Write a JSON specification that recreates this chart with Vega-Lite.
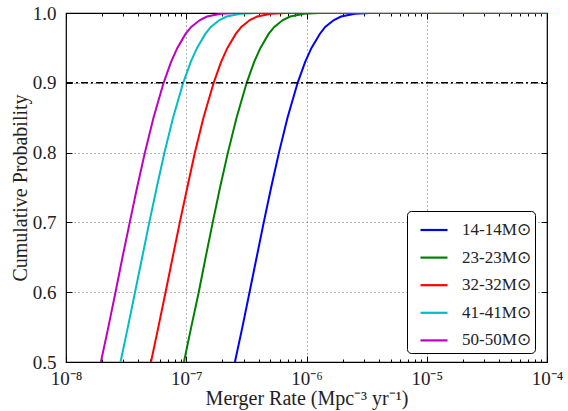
{
  "$schema": "https://vega.github.io/schema/vega-lite/v6.json",
  "width": 481,
  "height": 349,
  "autosize": {"type": "none"},
  "padding": {"left": 66, "top": 13, "right": 21, "bottom": 49},
  "background": "white",
  "config": {
    "font": "Liberation Serif",
    "view": {"stroke": "black", "strokeWidth": 1.2},
    "axis": {"domain": false, "labelFont": "Liberation Serif", "titleFont": "Liberation Serif", "labelColor": "#222", "titleColor": "#222", "titleFontWeight": "normal", "tickColor": "black", "tickWidth": 1, "labelFontSize": 19, "titleFontSize": 20},
    "legend": {
      "orient": "none", "legendX": 341, "legendY": 198, "strokeColor": "black", "cornerRadius": 4, "fillColor": "white",
      "padding": 4, "symbolType": "stroke", "symbolStrokeWidth": 2.2, "symbolSize": 729, "symbolOffset": 8,
      "labelFont": "Liberation Serif", "labelFontSize": 17, "labelColor": "#222", "labelOffset": 13, "rowPadding": 4.6, "title": null
    }
  },
  "datasets": {
    "curves": [
      {"pair": "14-14M⊙", "rate": 2.54e-7, "prob": 0.5},
      {"pair": "14-14M⊙", "rate": 2.93e-7, "prob": 0.55},
      {"pair": "14-14M⊙", "rate": 3.36e-7, "prob": 0.6},
      {"pair": "14-14M⊙", "rate": 3.85e-7, "prob": 0.65},
      {"pair": "14-14M⊙", "rate": 4.41e-7, "prob": 0.7},
      {"pair": "14-14M⊙", "rate": 5.08e-7, "prob": 0.75},
      {"pair": "14-14M⊙", "rate": 5.90e-7, "prob": 0.8},
      {"pair": "14-14M⊙", "rate": 6.95e-7, "prob": 0.85},
      {"pair": "14-14M⊙", "rate": 8.44e-7, "prob": 0.9},
      {"pair": "14-14M⊙", "rate": 9.75e-7, "prob": 0.93},
      {"pair": "14-14M⊙", "rate": 1.10e-6, "prob": 0.95},
      {"pair": "14-14M⊙", "rate": 1.29e-6, "prob": 0.97},
      {"pair": "14-14M⊙", "rate": 1.43e-6, "prob": 0.98},
      {"pair": "14-14M⊙", "rate": 1.69e-6, "prob": 0.99},
      {"pair": "14-14M⊙", "rate": 1.94e-6, "prob": 0.995},
      {"pair": "14-14M⊙", "rate": 2.53e-6, "prob": 0.999},
      {"pair": "14-14M⊙", "rate": 3.38e-6, "prob": 0.9999},
      {"pair": "14-14M⊙", "rate": 1e-4, "prob": 1.0},

      {"pair": "23-23M⊙", "rate": 9.57e-8, "prob": 0.5},
      {"pair": "23-23M⊙", "rate": 1.10e-7, "prob": 0.55},
      {"pair": "23-23M⊙", "rate": 1.27e-7, "prob": 0.6},
      {"pair": "23-23M⊙", "rate": 1.45e-7, "prob": 0.65},
      {"pair": "23-23M⊙", "rate": 1.66e-7, "prob": 0.7},
      {"pair": "23-23M⊙", "rate": 1.91e-7, "prob": 0.75},
      {"pair": "23-23M⊙", "rate": 2.22e-7, "prob": 0.8},
      {"pair": "23-23M⊙", "rate": 2.62e-7, "prob": 0.85},
      {"pair": "23-23M⊙", "rate": 3.18e-7, "prob": 0.9},
      {"pair": "23-23M⊙", "rate": 3.67e-7, "prob": 0.93},
      {"pair": "23-23M⊙", "rate": 4.14e-7, "prob": 0.95},
      {"pair": "23-23M⊙", "rate": 4.84e-7, "prob": 0.97},
      {"pair": "23-23M⊙", "rate": 5.40e-7, "prob": 0.98},
      {"pair": "23-23M⊙", "rate": 6.36e-7, "prob": 0.99},
      {"pair": "23-23M⊙", "rate": 7.32e-7, "prob": 0.995},
      {"pair": "23-23M⊙", "rate": 9.54e-7, "prob": 0.999},
      {"pair": "23-23M⊙", "rate": 1.27e-6, "prob": 0.9999},
      {"pair": "23-23M⊙", "rate": 1e-4, "prob": 1.0},

      {"pair": "32-32M⊙", "rate": 5.09e-8, "prob": 0.5},
      {"pair": "32-32M⊙", "rate": 5.86e-8, "prob": 0.55},
      {"pair": "32-32M⊙", "rate": 6.73e-8, "prob": 0.6},
      {"pair": "32-32M⊙", "rate": 7.71e-8, "prob": 0.65},
      {"pair": "32-32M⊙", "rate": 8.84e-8, "prob": 0.7},
      {"pair": "32-32M⊙", "rate": 1.02e-7, "prob": 0.75},
      {"pair": "32-32M⊙", "rate": 1.18e-7, "prob": 0.8},
      {"pair": "32-32M⊙", "rate": 1.39e-7, "prob": 0.85},
      {"pair": "32-32M⊙", "rate": 1.69e-7, "prob": 0.9},
      {"pair": "32-32M⊙", "rate": 1.95e-7, "prob": 0.93},
      {"pair": "32-32M⊙", "rate": 2.20e-7, "prob": 0.95},
      {"pair": "32-32M⊙", "rate": 2.58e-7, "prob": 0.97},
      {"pair": "32-32M⊙", "rate": 2.87e-7, "prob": 0.98},
      {"pair": "32-32M⊙", "rate": 3.38e-7, "prob": 0.99},
      {"pair": "32-32M⊙", "rate": 3.89e-7, "prob": 0.995},
      {"pair": "32-32M⊙", "rate": 5.07e-7, "prob": 0.999},
      {"pair": "32-32M⊙", "rate": 6.76e-7, "prob": 0.9999},
      {"pair": "32-32M⊙", "rate": 1e-4, "prob": 1.0},

      {"pair": "41-41M⊙", "rate": 2.84e-8, "prob": 0.5},
      {"pair": "41-41M⊙", "rate": 3.27e-8, "prob": 0.55},
      {"pair": "41-41M⊙", "rate": 3.75e-8, "prob": 0.6},
      {"pair": "41-41M⊙", "rate": 4.30e-8, "prob": 0.65},
      {"pair": "41-41M⊙", "rate": 4.93e-8, "prob": 0.7},
      {"pair": "41-41M⊙", "rate": 5.68e-8, "prob": 0.75},
      {"pair": "41-41M⊙", "rate": 6.59e-8, "prob": 0.8},
      {"pair": "41-41M⊙", "rate": 7.77e-8, "prob": 0.85},
      {"pair": "41-41M⊙", "rate": 9.43e-8, "prob": 0.9},
      {"pair": "41-41M⊙", "rate": 1.09e-7, "prob": 0.93},
      {"pair": "41-41M⊙", "rate": 1.23e-7, "prob": 0.95},
      {"pair": "41-41M⊙", "rate": 1.44e-7, "prob": 0.97},
      {"pair": "41-41M⊙", "rate": 1.60e-7, "prob": 0.98},
      {"pair": "41-41M⊙", "rate": 1.89e-7, "prob": 0.99},
      {"pair": "41-41M⊙", "rate": 2.17e-7, "prob": 0.995},
      {"pair": "41-41M⊙", "rate": 2.83e-7, "prob": 0.999},
      {"pair": "41-41M⊙", "rate": 3.77e-7, "prob": 0.9999},
      {"pair": "41-41M⊙", "rate": 1e-4, "prob": 1.0},

      {"pair": "50-50M⊙", "rate": 1.95e-8, "prob": 0.5},
      {"pair": "50-50M⊙", "rate": 2.25e-8, "prob": 0.55},
      {"pair": "50-50M⊙", "rate": 2.58e-8, "prob": 0.6},
      {"pair": "50-50M⊙", "rate": 2.95e-8, "prob": 0.65},
      {"pair": "50-50M⊙", "rate": 3.39e-8, "prob": 0.7},
      {"pair": "50-50M⊙", "rate": 3.90e-8, "prob": 0.75},
      {"pair": "50-50M⊙", "rate": 4.53e-8, "prob": 0.8},
      {"pair": "50-50M⊙", "rate": 5.34e-8, "prob": 0.85},
      {"pair": "50-50M⊙", "rate": 6.48e-8, "prob": 0.9},
      {"pair": "50-50M⊙", "rate": 7.48e-8, "prob": 0.93},
      {"pair": "50-50M⊙", "rate": 8.43e-8, "prob": 0.95},
      {"pair": "50-50M⊙", "rate": 9.87e-8, "prob": 0.97},
      {"pair": "50-50M⊙", "rate": 1.10e-7, "prob": 0.98},
      {"pair": "50-50M⊙", "rate": 1.30e-7, "prob": 0.99},
      {"pair": "50-50M⊙", "rate": 1.49e-7, "prob": 0.995},
      {"pair": "50-50M⊙", "rate": 1.94e-7, "prob": 0.999},
      {"pair": "50-50M⊙", "rate": 2.59e-7, "prob": 0.9999},
      {"pair": "50-50M⊙", "rate": 1e-4, "prob": 1.0}
    ],
    "threshold": [{"lo": 1e-8, "hi": 1e-4, "level": 0.9}]
  },
  "resolve": {"axis": {"x": "independent", "y": "independent"}},
  "layer": [
    {
      "data": {"name": "curves"},
      "mark": {"type": "line", "strokeWidth": 2, "clip": true},
      "encoding": {
        "x": {
          "field": "rate", "type": "quantitative",
          "scale": {"type": "log", "domain": [1e-8, 1e-4], "nice": false},
          "axis": {
            "orient": "bottom",
            "offset": -6,
            "title": "Merger Rate (Mpc⁻³ yr⁻¹)",
            "titlePadding": 0,
            "values": [1e-8, 1e-7, 1e-6, 1e-5, 1e-4],
            "labelExpr": "['10⁻⁸','10⁻⁷','10⁻⁶','10⁻⁵','10⁻⁴'][round(log(datum.value)/LN10)+8]",
            "labelFlush": false,
            "labelOverlap": false,
            "labelPadding": 7,
            "tickSize": 6,
            "grid": true,
            "gridColor": "black",
            "gridOpacity": 0.6,
            "gridDash": [1, 3],
            "gridWidth": 1
          }
        },
        "y": {
          "field": "prob", "type": "quantitative",
          "scale": {"domain": [0.5, 1.0], "nice": false, "zero": false},
          "axis": {
            "orient": "left",
            "offset": -6,
            "title": "Cumulative Probability",
            "titlePadding": 2,
            "values": [0.5, 0.6, 0.7, 0.8, 0.9, 1.0],
            "format": ".1f",
            "labelFlush": false,
            "labelOverlap": false,
            "labelPadding": 10,
            "tickSize": 6,
            "grid": true,
            "gridColor": "black",
            "gridOpacity": 0.6,
            "gridDash": [1, 3],
            "gridWidth": 1
          }
        },
        "color": {
          "field": "pair", "type": "nominal",
          "scale": {"domain": ["14-14M⊙", "23-23M⊙", "32-32M⊙", "41-41M⊙", "50-50M⊙"], "range": ["#0000ff", "#008000", "#ff0000", "#00bfbf", "#bf00bf"]},
          "legend": {}
        }
      }
    },
    {
      "data": {"name": "threshold"},
      "mark": {"type": "rule", "color": "black", "strokeWidth": 1.4, "strokeDash": [7, 3, 2, 3]},
      "encoding": {
        "x": {
          "field": "lo", "type": "quantitative",
          "axis": {
            "orient": "top", "offset": -6, "title": null, "labels": false, "grid": false,
            "values": [1e-8, 1e-7, 1e-6, 1e-5, 1e-4],
            "tickSize": 6
          }
        },
        "x2": {"field": "hi"},
        "y": {
          "field": "level", "type": "quantitative",
          "axis": {
            "orient": "right", "offset": -6, "title": null, "labels": false, "grid": false,
            "values": [0.5, 0.6, 0.7, 0.8, 0.9, 1.0],
            "tickSize": 6
          }
        }
      }
    },
    {
      "data": {"name": "threshold"},
      "mark": {"type": "rule", "strokeOpacity": 0},
      "encoding": {
        "x": {
          "field": "lo", "type": "quantitative",
          "axis": {
            "orient": "bottom", "offset": -3, "title": null, "labels": false, "grid": false,
            "values": [2e-8,3e-8,4e-8,5e-8,6e-8,7e-8,8e-8,9e-8,2e-7,3e-7,4e-7,5e-7,6e-7,7e-7,8e-7,9e-7,2e-6,3e-6,4e-6,5e-6,6e-6,7e-6,8e-6,9e-6,2e-5,3e-5,4e-5,5e-5,6e-5,7e-5,8e-5,9e-5],
            "tickSize": 3
          }
        },
        "x2": {"field": "hi"},
        "y": {"field": "level", "type": "quantitative", "axis": null}
      }
    },
    {
      "data": {"name": "threshold"},
      "mark": {"type": "rule", "strokeOpacity": 0},
      "encoding": {
        "x": {
          "field": "lo", "type": "quantitative",
          "axis": {
            "orient": "top", "offset": -3, "title": null, "labels": false, "grid": false,
            "values": [2e-8,3e-8,4e-8,5e-8,6e-8,7e-8,8e-8,9e-8,2e-7,3e-7,4e-7,5e-7,6e-7,7e-7,8e-7,9e-7,2e-6,3e-6,4e-6,5e-6,6e-6,7e-6,8e-6,9e-6,2e-5,3e-5,4e-5,5e-5,6e-5,7e-5,8e-5,9e-5],
            "tickSize": 3
          }
        },
        "x2": {"field": "hi"},
        "y": {"field": "level", "type": "quantitative", "axis": null}
      }
    }
  ]
}
